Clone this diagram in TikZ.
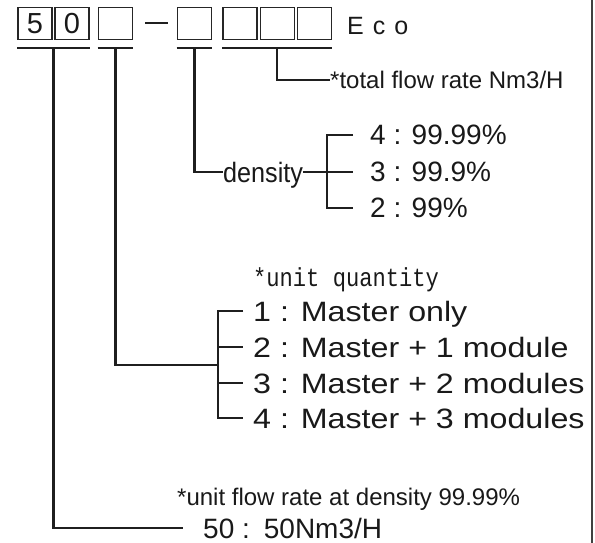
\documentclass[tikz,border=0pt]{standalone}
\usepackage{fontspec}
\setmainfont{Liberation Sans}
\setmonofont{Liberation Mono}
\newfontfamily\widefont[FakeStretch=1.15]{Liberation Sans}
\newfontfamily\narrowfont[FakeStretch=0.9]{Liberation Sans}
\newfontfamily\narrowmono[FakeStretch=0.85]{Liberation Mono}
\newfontfamily\ecofont[LetterSpace=8]{Liberation Sans}
\usetikzlibrary{positioning}

\tikzset{
  digitbox/.style={draw=black!85, line width=1.6pt, minimum width=34pt,
    minimum height=32pt, inner sep=0pt, text=black!90,
    font=\fontsize{29}{30}\selectfont},
  lead/.style={line width=2.2pt, black!88},
  itemtext/.style={anchor=west, inner sep=0pt, text depth=0pt, text=black!90},
}

\begin{document}
\begin{tikzpicture}[x=1pt, y=-1pt]
    \useasboundingbox (0,0) rectangle (595,543);

    % Draw the code boxes
    \node[digitbox] (b1) at (35,23.5) {5};
    \node[digitbox] (b2) at (72,23.5) {0};
    \node[digitbox] (b3) at (115.5,23.5) {};
    \draw[lead] (145,23) -- (168,23);
    \node[digitbox] (b4) at (194.5,23.5) {};
    \node[digitbox] (b5) at (240,23.5) {};
    \node[digitbox] (b6) at (277.5,23.5) {};
    \node[digitbox] (b7) at (314.5,23.5) {};
    \node[anchor=base west, inner sep=0pt, text=black!90,
      font=\ecofont\fontsize{25}{27}\selectfont] (eco) at (347,35) {E c o};

    % Underline each group of boxes
    \coordinate (ul) at (0,48);
    \draw[lead] (b1.south west |- ul) -- (b2.south east |- ul) coordinate[midway] (m1);
    \draw[lead] (b3.south west |- ul) -- (b3.south east |- ul) coordinate[midway] (m2);
    \draw[lead] (b4.south west |- ul) -- (b4.south east |- ul) coordinate[midway] (m3);
    \draw[lead] (b5.south west |- ul) -- (b7.south east |- ul) coordinate[midway] (m4);

    % Total flow rate
    \node[itemtext, font=\fontsize{24}{26}\selectfont] (total) at (330,80) {*total flow rate Nm3/H};
    \draw[lead] (m4) |- (total.west);

    % Density
    \node[itemtext, font=\narrowfont\fontsize{28}{30}\selectfont] (density) at (223,172) {density};
    \draw[lead] (m3) |- (density.west);
    \coordinate (dk) at (327,172);
    \foreach \y/\txt [count=\i] in {135/4 : 99.99\%, 172/3 : 99.9\%, 208/2 : 99\%}
        \node[itemtext, font=\fontsize{28}{30}\selectfont] (dens\i) at (370,\y) {\txt};
    \draw[lead] (density.east) -- (dk);
    \draw[lead] ([xshift=-17pt]dens1.west) -| (dk) |- ([xshift=-17pt]dens3.west);
    \draw[lead] (dk) -- ([xshift=-17pt]dens2.west);

    % Unit quantity
    \node[anchor=base west, inner sep=0pt, text=black!90,
      font=\narrowmono\fontsize{26}{28}\selectfont] (qty) at (253,286) {*unit quantity};
    \coordinate (qk) at (218,365);
    \foreach \y/\txt [count=\i] in {311/1 : Master only, 347/2 : Master + 1 module,
        383/3 : Master + 2 modules, 418/4 : Master + 3 modules}
        \node[itemtext, font=\widefont\fontsize{28}{30}\selectfont] (unit\i) at (253,\y) {\txt};
    \draw[lead] (m2) |- (qk);
    \draw[lead] ([xshift=-10pt]unit1.west) -| (qk) |- ([xshift=-10pt]unit4.west);
    \draw[lead] (qk |- unit2.west) -- ([xshift=-10pt]unit2.west);
    \draw[lead] (qk |- unit3.west) -- ([xshift=-10pt]unit3.west);

    % Unit flow rate
    \node[anchor=base west, inner sep=0pt, text=black!90,
      font=\fontsize{24}{26}\selectfont] (rate) at (177,505) {*unit flow rate at density 99.99\%};
    \node[itemtext, font=\fontsize{28}{30}\selectfont] (flow) at (203,528) {50 :\enspace 50Nm3/H};
    \draw[lead] (m1) |- ([xshift=-20pt]flow.west);

    % Right border
    \draw[line width=2pt, black!75] (592,0) -- (592,543);
\end{tikzpicture}
\end{document}
